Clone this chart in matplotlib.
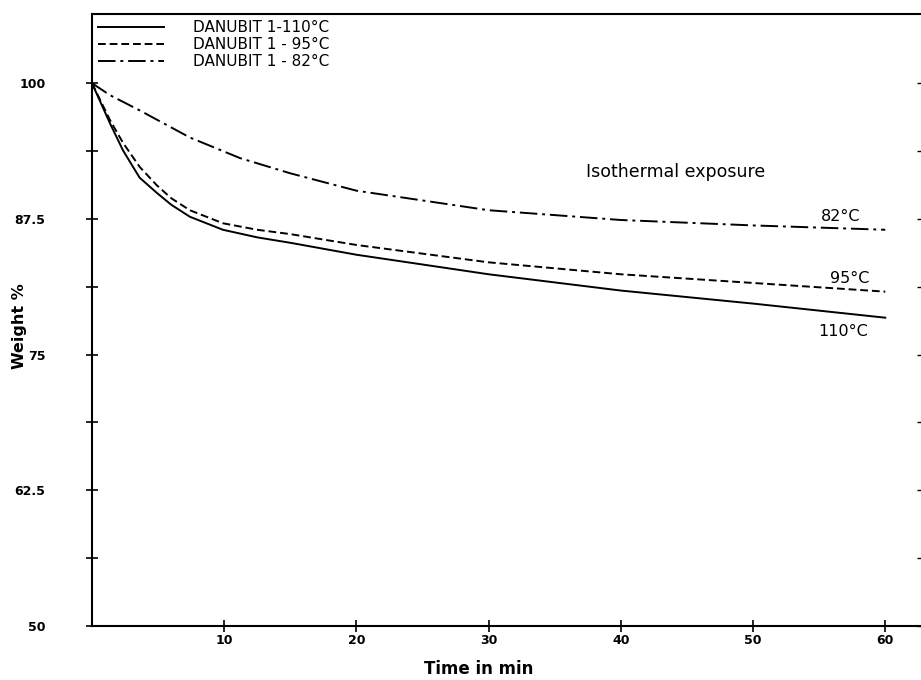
import matplotlib
matplotlib.use("Agg")
import matplotlib.pyplot as plt
from matplotlib.ticker import FixedLocator, FixedFormatter

# Data
t_110 = [0, 1.36, 2.35, 3.6, 4.9, 6.0, 7.4, 9.9, 12.5, 15, 20, 30, 40, 50, 60]
w_110 = [100, 96.3, 93.8, 91.3, 89.9, 88.8, 87.7, 86.5, 85.8, 85.3, 84.2, 82.4, 80.9, 79.7, 78.4]

t_95 = [0, 1.36, 2.35, 3.6, 4.9, 6.0, 7.4, 9.9, 12.5, 15, 20, 30, 40, 50, 60]
w_95 = [100, 96.6, 94.5, 92.3, 90.6, 89.4, 88.3, 87.1, 86.5, 86.1, 85.1, 83.5, 82.4, 81.6, 80.8]

t_82 = [0, 1.36, 3.6, 7.4, 11.2, 15, 20, 30, 40, 50, 60]
w_82 = [100, 98.9, 97.5, 95.0, 93.1, 91.7, 90.1, 88.3, 87.4, 86.9, 86.5]

legend_labels = ["DANUBIT 1-110°C", "DANUBIT 1 - 95°C", "DANUBIT 1 - 82°C"]
end_labels = ["110°C", "95°C", "82°C"]
x_ticks = [10, 20, 30, 40, 50, 60]
y_major = [50, 62.5, 75, 87.5, 100]
y_major_labels = ["50", "62.5", "75", "87.5", "100"]
y_minor = [56.25, 68.75, 81.25, 93.75]

fig = plt.figure(figsize=(9.21, 6.8), dpi=100)
ax = fig.add_axes([0.0999, 0.0794, 0.9001, 0.8996])

lw = 1.4
ax.plot(t_110, w_110, color="black", lw=lw, ls="-", label=legend_labels[0])
ax.plot(t_95, w_95, color="black", lw=lw, ls=(0, (4, 2)), label=legend_labels[1])
ax.plot(t_82, w_82, color="black", lw=lw, ls=(0, (9, 2.5, 1.5, 2.5)), label=legend_labels[2])

ax.set_xlim(0, 62.7)
ax.set_ylim(50, 106.35)

ax.xaxis.set_major_locator(FixedLocator(x_ticks))
ax.yaxis.set_major_locator(FixedLocator(y_major))
ax.yaxis.set_major_formatter(FixedFormatter(y_major_labels))
ax.yaxis.set_minor_locator(FixedLocator(y_minor))

ax.spines["right"].set_visible(False)
for s in ["left", "bottom", "top"]:
    ax.spines[s].set_linewidth(1.5)

ax.tick_params(axis="x", which="both", direction="inout", length=8, width=1.2,
               labelsize=9, pad=2)
ax.tick_params(axis="y", which="both", direction="inout", length=9, width=1.2,
               labelsize=9, pad=29, right=False)
for lab in ax.get_xticklabels() + ax.get_yticklabels():
    lab.set_fontweight("bold")

# small marks along the right edge
ax2 = ax.twinx()
ax2.set_ylim(ax.get_ylim())
ax2.yaxis.set_major_locator(FixedLocator(y_major + y_minor))
ax2.tick_params(axis="y", direction="in", length=3, width=1.0, labelright=False)
for s in ax2.spines.values():
    s.set_visible(False)

ax.set_xlabel("Time in min", fontsize=12, fontweight="bold", labelpad=12)
ax.xaxis.set_label_coords(0.466, -0.055)
ax.set_ylabel("Weight %", fontsize=11.5, fontweight="bold")
ax.yaxis.set_label_coords(-0.078, 0.49)

ax.text(0.704, 0.742, "Isothermal exposure", transform=ax.transAxes,
        fontsize=12.5, ha="center", va="center")

ax.text(58.1, w_82[-1] + 0.55, end_labels[2], fontsize=11.5, ha="right", va="bottom")
ax.text(58.8, w_95[-1] + 0.55, end_labels[1], fontsize=11.5, ha="right", va="bottom")
ax.text(58.7, w_110[-1] - 0.6, end_labels[0], fontsize=11.5, ha="right", va="top")

ax2.legend(*ax.get_legend_handles_labels(), loc="upper left",
           bbox_to_anchor=(0.0, 1.0), frameon=False,
           fontsize=11, handlelength=4.3, handletextpad=1.9,
           labelspacing=0.12, borderaxespad=0.15, borderpad=0.25)

fig.savefig("out.png", dpi=100)
